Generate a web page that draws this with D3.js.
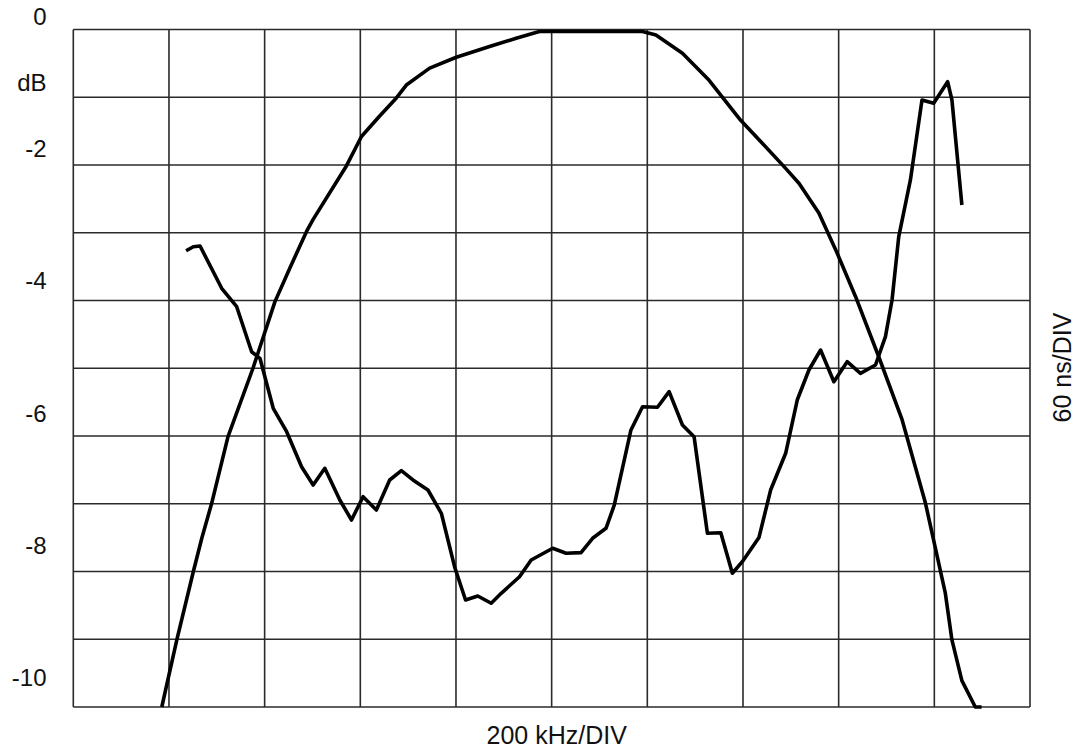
<!DOCTYPE html>
<html>
<head>
<meta charset="utf-8">
<script src="https://cdn.jsdelivr.net/npm/d3@7"></script>
<style>
  html, body { margin: 0; padding: 0; background: #fff; }
  svg { display: block; }
  text { font-family: "Liberation Sans", Arial, sans-serif; fill: #111; }
</style>
</head>
<body>
<svg id="chart" width="1078" height="752"></svg>
<script>
// ---- data (x in divisions of 200 kHz, y in dB grid units) ----
const yTickValues = [0, -2, -4, -6, -8, -10];
const yTickLabels = ["0", "-2", "-4", "-6", "-8", "-10"];
const yUnitLabel = "dB";
const xAxisTitle = "200 kHz/DIV";
const rightAxisTitle = "60 ns/DIV";

// amplitude response (dB)
const ampX = [0.925, 1.082, 1.255, 1.343, 1.447, 1.617, 1.878, 2.107, 2.264, 2.438, 2.504, 2.856, 3.012, 3.200, 3.377, 3.481, 3.725, 4.003, 4.351, 4.629, 4.872, 5.950, 6.090, 6.367, 6.646, 6.976, 7.202, 7.446, 7.585, 7.793, 7.984, 8.176, 8.419, 8.663, 8.907, 9.115, 9.184, 9.288, 9.428, 9.494];
const ampY = [-10.0, -9.01, -8.00, -7.51, -6.99, -6.01, -5.00, -4.02, -3.52, -2.98, -2.81, -2.01, -1.58, -1.28, -1.01, -0.82, -0.57, -0.41, -0.25, -0.13, -0.03, -0.03, -0.08, -0.35, -0.75, -1.34, -1.68, -2.05, -2.27, -2.71, -3.30, -3.94, -4.83, -5.76, -6.99, -8.32, -9.01, -9.61, -10.0, -10.0];

// group delay (plotted in grid units)
const gdX = [1.179, 1.255, 1.325, 1.551, 1.708, 1.864, 1.951, 2.090, 2.230, 2.386, 2.507, 2.629, 2.786, 2.908, 3.029, 3.168, 3.307, 3.429, 3.550, 3.707, 3.847, 3.985, 4.100, 4.228, 4.368, 4.473, 4.664, 4.786, 5.011, 5.151, 5.307, 5.428, 5.568, 5.655, 5.829, 5.950, 6.106, 6.228, 6.367, 6.489, 6.628, 6.768, 6.889, 6.993, 7.167, 7.289, 7.446, 7.567, 7.689, 7.811, 7.950, 8.089, 8.228, 8.385, 8.489, 8.558, 8.628, 8.750, 8.871, 8.993, 9.139, 9.184, 9.288];
const gdY = [-3.265, -3.206, -3.196, -3.820, -4.092, -4.756, -4.853, -5.591, -5.937, -6.453, -6.723, -6.477, -6.945, -7.240, -6.896, -7.092, -6.649, -6.512, -6.649, -6.797, -7.141, -7.929, -8.421, -8.362, -8.469, -8.322, -8.077, -7.830, -7.657, -7.731, -7.722, -7.510, -7.362, -7.018, -5.911, -5.568, -5.576, -5.346, -5.838, -6.010, -7.436, -7.427, -8.026, -7.855, -7.498, -6.797, -6.255, -5.469, -5.026, -4.731, -5.199, -4.903, -5.075, -4.952, -4.534, -3.993, -3.058, -2.221, -1.041, -1.089, -0.770, -1.041, -2.590];

// ---- drawing ----
const svg = d3.select("#chart");
const x = d3.scaleLinear().domain([0, 10]).range([73.3, 1030]);
const y = d3.scaleLinear().domain([0, -10]).range([29.5, 707]);
const yLabel = d3.scaleLinear().domain([0, -10]).range([25, 686]);

const grid = svg.append("g").attr("stroke", "#2a2a2a").attr("stroke-width", 1.6).attr("fill", "none");
grid.selectAll("line.v").data(d3.range(0, 11)).join("line")
  .attr("class", "v")
  .attr("x1", d => x(d)).attr("x2", d => x(d))
  .attr("y1", y(0)).attr("y2", y(-10));
grid.selectAll("line.h").data(d3.range(0, -11, -1)).join("line")
  .attr("class", "h")
  .attr("x1", x(0)).attr("x2", x(10))
  .attr("y1", d => y(d)).attr("y2", d => y(d));

// y tick labels
svg.append("g").selectAll("text").data(yTickValues).join("text")
  .attr("x", 46.5)
  .attr("y", d => yLabel(d))
  .attr("text-anchor", "end")
  .attr("font-size", 24)
  .text((d, i) => yTickLabels[i]);
svg.append("text")
  .attr("x", 46.5).attr("y", yLabel(-1))
  .attr("text-anchor", "end").attr("font-size", 24)
  .text(yUnitLabel);

svg.append("text")
  .attr("x", 556.7).attr("y", 744)
  .attr("text-anchor", "middle").attr("font-size", 25)
  .text(xAxisTitle);

svg.append("text")
  .attr("transform", "translate(1071,367.5) rotate(-90)")
  .attr("text-anchor", "middle").attr("font-size", 25)
  .text(rightAxisTitle);

const line = d3.line().x(d => x(d[0])).y(d => y(d[1]));
const amp = ampX.map((v, i) => [v, ampY[i]]);
const gd = gdX.map((v, i) => [v, gdY[i]]);

svg.append("path").datum(amp)
  .attr("d", line).attr("fill", "none").attr("stroke", "#000")
  .attr("stroke-width", 3.6).attr("stroke-linejoin", "round");
svg.append("path").datum(gd)
  .attr("d", line).attr("fill", "none").attr("stroke", "#000")
  .attr("stroke-width", 3.6).attr("stroke-linejoin", "round");
</script>
</body>
</html>
